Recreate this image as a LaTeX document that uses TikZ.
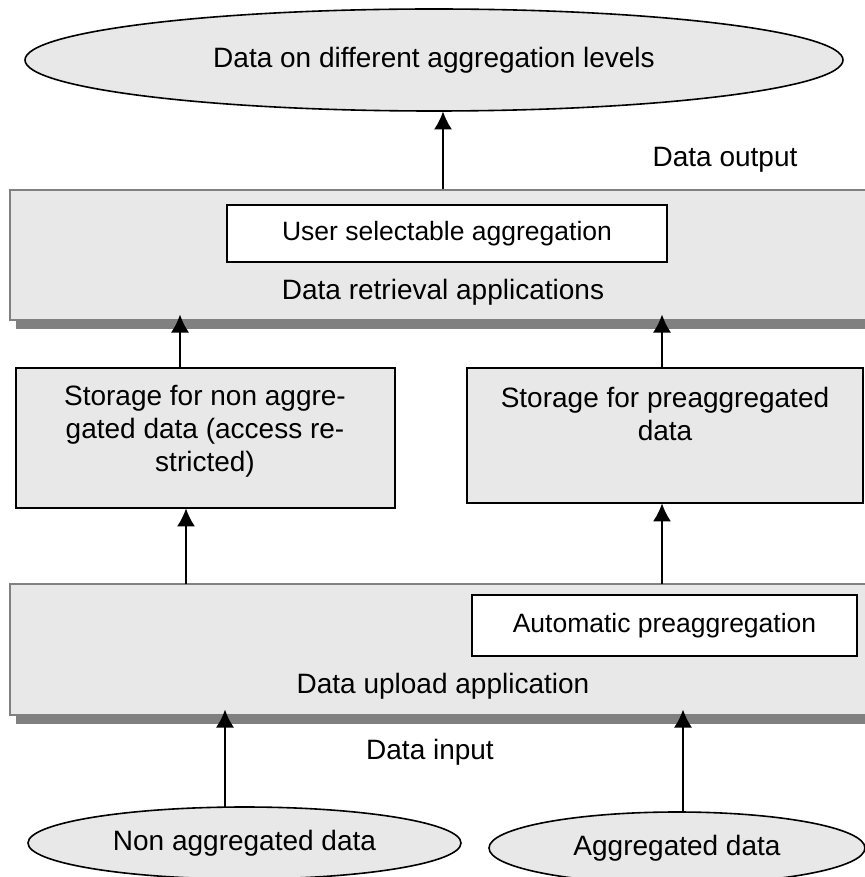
\documentclass[tikz,border=0pt]{standalone}
\usepackage{fontspec}
\setmainfont{Liberation Sans}
\usetikzlibrary{shapes.geometric,shadows,arrows.meta}

\definecolor{boxgray}{HTML}{E8E8E8}
\definecolor{framegray}{HTML}{808080}

\tikzset{global scale/.style={
    	scale=#1,
    	every node/.append style={scale=#1}
  	}
}
\tikzset{
  blob/.style={ellipse, draw=black, line width=0.8pt, fill=boxgray, inner sep=0pt,
    font=\fontsize{28}{33}\selectfont},
  appbox/.style={rectangle, draw=framegray, line width=1pt, fill=boxgray,
    drop shadow={shadow xshift=3pt, shadow yshift=-4.5pt, fill=framegray, opacity=1}},
  storebox/.style={rectangle, draw=black, line width=0.75pt, fill=boxgray},
  subbox/.style={rectangle, draw=black, line width=0.75pt, fill=white,
    font=\fontsize{26.5}{30}\selectfont},
  caption/.style={font=\fontsize{28}{33}\selectfont, align=center, inner sep=0pt},
  up/.style={-{Latex[length=9pt,width=9pt]}, line width=0.9pt},
}

\begin{document}
\begin{tikzpicture}[global scale = 0.5, x=1pt, y=-1pt]
	\useasboundingbox (0,0) rectangle (864,877);

	% output side
	\node[blob, minimum width=818pt, minimum height=102pt] (levels) at (434,60)
		{Data on different aggregation levels};
	\node[caption] (output) at (725,160) {Data output};

	\node[appbox, minimum width=870pt, minimum height=130pt] (retrieval) at (445,255) {};
	\node[subbox, minimum width=440pt, minimum height=57pt] (userselect) at (447,233.5)
		{User selectable aggregation};
	\node[caption] (retrievaltext) at (443,292) {Data retrieval applications};

	% the two stores
	\node[storebox, minimum width=379pt, minimum height=140pt] (storenon) at (205.5,438) {};
	\node[caption] (storenontext) at (205,431)
		{Storage for non aggre-\\gated data (access re-\\stricted)};
	\node[storebox, minimum width=396pt, minimum height=135pt] (storepre) at (665,435.5) {};
	\node[caption] (storepretext) at (665,414)
		{Storage for preaggregated\\data};

	% input side
	\node[appbox, minimum width=870pt, minimum height=131pt] (upload) at (445,649.5) {};
	\node[subbox, minimum width=385pt, minimum height=61pt] (autopre) at (664.5,625.5)
		{Automatic preaggregation};
	\node[caption] (uploadtext) at (443,686) {Data upload application};
	\node[caption] (input) at (430,752) {Data input};

	\node[blob, minimum width=433pt, minimum height=72pt] (nonagg) at (244.5,843)
		{Non aggregated data};
	\node[blob, minimum width=376pt, minimum height=72pt] (agg) at (677,848)
		{Aggregated data};

	% x positions of the arrows
	\coordinate (xa) at (443,0);
	\coordinate (xb) at (180,0);
	\coordinate (xc) at (662,0);
	\coordinate (xd) at (186,0);
	\coordinate (xe) at (225,0);
	\coordinate (xf) at (683,0);

	\draw[up] (retrieval.north -| xa) -- (levels.south -| xa);
	\draw[up, shorten >=-3pt] (storenon.north -| xb) -- (retrieval.south -| xb);
	\draw[up, shorten >=-3pt] (storepre.north -| xc) -- (retrieval.south -| xc);
	\draw[up] (upload.north -| xd) -- (storenon.south -| xd);
	\draw[up] (upload.north -| xc) -- (storepre.south -| xc);
	\draw[up, shorten >=-3pt] (nonagg.north -| xe) -- (upload.south -| xe);
	\draw[up, shorten >=-3pt] (agg.north -| xf) -- (upload.south -| xf);
\end{tikzpicture}
\end{document}
